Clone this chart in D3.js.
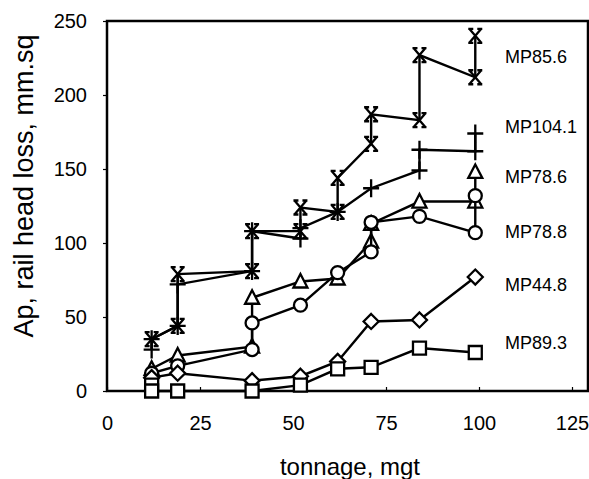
<!DOCTYPE html>
<html><head><meta charset="utf-8">
<script src="https://cdn.jsdelivr.net/npm/d3@7"></script>
<style>body{margin:0;background:#fff}svg{display:block}text{font-family:"Liberation Sans",Arial,sans-serif;fill:#000}</style>
</head><body><div id="chart"></div>
<script>
const xTicks = [0,25,50,75,100,125];
const yTicks = [0,50,100,150,200,250];
const xTitle = "tonnage, mgt";
const yTitle = "Ap, rail head loss, mm.sq";
const seriesNames = ["MP85.6","MP104.1","MP78.6","MP78.8","MP44.8","MP89.3"];
const seriesMarkers = ["xbar","plus","triangle","circle","diamond","square"];
const mp856 = [[12,35],[19,44],[19,79],[39,81],[39,108],[52,108],[52,124],[62,121],[62,144],[71,167],[71,187],[84,183],[84,227],[99,212],[99,240]];
const mp1041 = [[12,28],[12,35],[19,44],[19,72],[39,81],[39,108],[52,103],[52,110],[62,121],[71,137],[84,149],[84,163],[99,162],[99,174]];
const mp786 = [[12,15],[19,24],[39,30],[39,63],[52,74],[62,76],[71,101],[71,113],[84,128],[99,128],[99,148]];
const mp788 = [[12,12],[19,17],[39,28],[39,46],[52,58],[62,80],[71,94],[71,114],[84,118],[99,107],[99,132]];
const mp448 = [[12,9],[19,12],[39,7],[52,10],[62,20],[71,47],[84,48],[99,77]];
const mp893 = [[12,4],[12,0],[19,0],[39,0],[52,4],[62,15],[71,16],[84,29],[99,26]];
const seriesData = [mp856, mp1041, mp786, mp788, mp448, mp893];
const labelY = [57, 127, 177, 232, 285, 343];

(function(){
const W = 589, H = 479;
const svg = d3.select("#chart").append("svg").attr("width", W).attr("height", H);
const mLeft = 107, mTop = 21, mBottom = 391, mRight = 588;
const x = d3.scaleLinear().domain([0,125]).range([mLeft, 572]);
const y = d3.scaleLinear().domain([0,250]).range([mBottom, mTop]);

const gx = svg.append("g").attr("transform",`translate(0,${mBottom})`)
  .call(d3.axisBottom(x).tickValues(xTicks).tickSize(-4).tickPadding(25));
gx.select(".domain").remove();
gx.selectAll("line").attr("stroke","#000").attr("stroke-width",1.2);
gx.selectAll("text").attr("font-size",20).attr("dy","0.71em");
const gy = svg.append("g").attr("transform",`translate(${mLeft},0)`)
  .call(d3.axisLeft(y).tickValues(yTicks).tickSize(4).tickPadding(16));
gy.select(".domain").remove();
gy.selectAll("line").attr("stroke","#000").attr("stroke-width",1.2);
gy.selectAll("text").attr("font-size",20);

svg.append("rect").attr("x",mLeft).attr("y",mTop).attr("width",mRight-mLeft).attr("height",mBottom-mTop)
  .attr("fill","none").attr("stroke","#000").attr("stroke-width",2.5);

svg.append("text").attr("x",350).attr("y",475).attr("text-anchor","middle").attr("font-size",24).text(xTitle);
svg.append("text").attr("transform","translate(24,186) rotate(-90)").attr("text-anchor","middle").attr("dy","0.35em").attr("font-size",27).text(yTitle);

const markerPath = {
  xbar: "M-6,-7L6,7M6,-7L-6,7M-7,-7H-2M2,-7H7M-7,7H-2M2,7H7",
  plus: "M-8,0H8M0,-9V9",
  triangle: "M0,-7.5L7,6L-7,6Z",
  circle: "M6.5,0A6.5,6.5 0 1,1 -6.5,0A6.5,6.5 0 1,1 6.5,0Z",
  diamond: "M0,-7.5L7.5,0L0,7.5L-7.5,0Z",
  square: "M-6.5,-6.5H6.5V6.5H-6.5Z"
};
const line = d3.line().x(d=>x(d[0])).y(d=>y(d[1]));
seriesData.forEach((data,i)=>{
  const g = svg.append("g");
  g.append("path").attr("d",line(data)).attr("fill","none").attr("stroke","#000").attr("stroke-width",2.4);
  g.selectAll("path.m").data(data).enter().append("path").attr("class","m")
    .attr("transform",d=>`translate(${x(d[0])},${y(d[1])})`)
    .attr("d",markerPath[seriesMarkers[i]])
    .attr("fill", (seriesMarkers[i]==="xbar"||seriesMarkers[i]==="plus")?"none":"#fff")
    .attr("stroke","#000").attr("stroke-width",2.3);
  svg.append("text").attr("x",505).attr("y",labelY[i]).attr("dy","0.35em").attr("font-size",18).text(seriesNames[i]);
});
})();
</script></body></html>
